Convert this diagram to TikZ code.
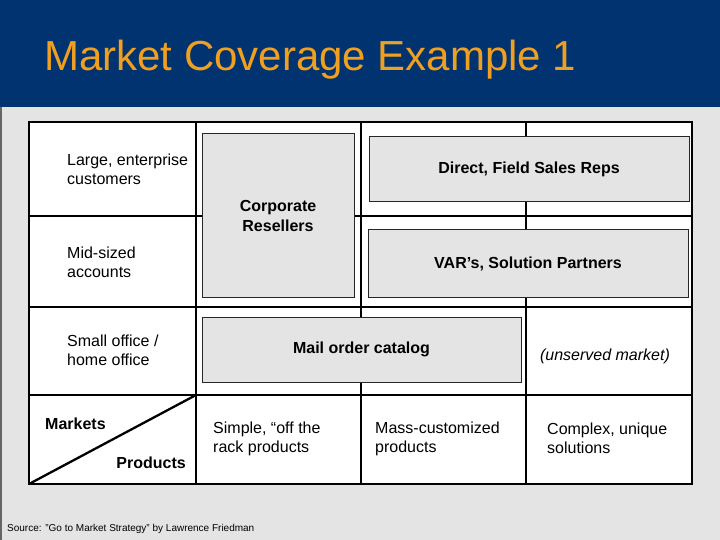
\documentclass[tikz,border=0pt]{standalone}
\usepackage{fontspec}
\setmainfont{Liberation Sans}
\usepackage[]{xcolor}
\usetikzlibrary{positioning}
\definecolor{titleblue}{HTML}{003370}
\definecolor{titleorange}{HTML}{F0A020}
\definecolor{pagegray}{HTML}{E4E4E4}
\tikzset{channel/.style = {draw=black!85, line width=1pt, fill=pagegray, align=center, inner sep=0, font=\fontsize{16}{20}\selectfont\bfseries}}
\tikzset{celltext/.style = {anchor=west, align=left, inner sep=0, font=\fontsize{16}{19}\selectfont}}
\tikzset{axistext/.style = {inner sep=0, font=\fontsize{16}{19}\selectfont\bfseries}}

\begin{document}
\begin{tikzpicture}[x=1pt,y=-1pt]
        \useasboundingbox (0,0) rectangle (720,540);
        \fill [pagegray] (0,0) rectangle (720,540);
        \fill [titleblue] (0,0) rectangle (720,107);
        \draw [black!60, line width=1.5pt] (0.75,107) -- (0.75,540);
        \node [anchor=base west, inner sep=0, text=titleorange, font=\fontsize{42}{48}\selectfont] (title) at (44,71) {Market Coverage Example 1};
        % grid
        \coordinate (tl) at (29,122);
        \coordinate (br) at (692,484);
        \coordinate (dg) at (196,395);
        \fill [white] (tl) rectangle (br);
        \foreach \x in {196,361,526} \draw [line width=2.3pt] (\x,122) -- (\x,484);
        \foreach \y in {216,307,395} \draw [line width=2.3pt] (29,\y) -- (692,\y);
        \draw [line width=2.3pt] (tl) rectangle (br);
        \draw [line width=2.3pt] (29,484) -- (dg);
        % channels
        \node [channel, minimum width=152, minimum height=163] (corp) at (278,215.5) {Corporate\\Resellers};
        \node [channel, minimum width=320, minimum height=65] (direct) at (529,169.5) {Direct, Field Sales Reps};
        \node [channel, minimum width=320, minimum height=67] (var) at (528,263.5) {VAR’s, Solution Partners};
        \node [channel, minimum width=319, minimum height=65] (mail) at (361.5,349.5) {Mail order catalog};
        % markets and products
        \node [celltext] (large) at (67,169) {Large, enterprise\\customers};
        \node [celltext] (mid) at (67,262.5) {Mid-sized\\accounts};
        \node [celltext] (small) at (67,350.5) {Small office /\\home office};
        \node [celltext] (simple) at (213,438.5) {Simple, “off the\\rack products};
        \node [celltext] (mass) at (375,438.5) {Mass-customized\\products};
        \node [celltext] (complex) at (547,438.5) {Complex, unique\\solutions};
        \node [celltext, anchor=center, font=\fontsize{16}{19}\selectfont\itshape] (unserved) at (605,356) {(unserved market)};
        \node [axistext, anchor=west] (markets) at (45,424) {Markets};
        \node [axistext, anchor=east] (products) at (186,463) {Products};
        \node [anchor=base west, inner sep=0, font=\fontsize{10}{12}\selectfont] (source) at (7,531) {Source: "Go to Market Strategy" by Lawrence Friedman};
    \end{tikzpicture}
\end{document}
